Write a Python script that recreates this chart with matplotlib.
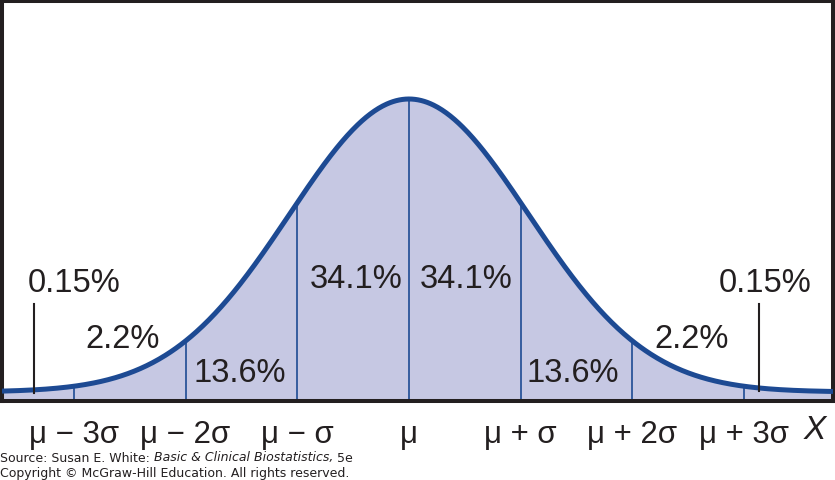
import numpy as np
import matplotlib
matplotlib.use("Agg")
import matplotlib.pyplot as plt

plt.rcParams["font.family"] = ["Liberation Sans", "DejaVu Sans"]

# data
sigma_marks = [-3, -2, -1, 0, 1, 2, 3]
tick_labels = ["μ − 3σ", "μ − 2σ", "μ − σ", "μ", "μ + σ", "μ + 2σ", "μ + 3σ"]
band_labels = ["2.2%", "13.6%", "34.1%", "34.1%", "13.6%", "2.2%"]
tail_label = "0.15%"
curve_width = 1.07  # drawn curve is a little wider than the marked sigma

INK = "#231f20"
BLUE = "#1d4a93"
FILL = "#c6c8e3"

# pixel -> data helpers (axes spans pixels 2..833 across, 2..402 down)
X = lambda px: (px - 409) / 111.7
Y = lambda py: (393 - py) / 293

fig = plt.figure(figsize=(8.35, 4.81), dpi=100)
ax = fig.add_axes([2 / 835, 1 - 402 / 481, 831 / 835, 400 / 481])

xmin, xmax = X(2), X(833)
ybot, ytop = Y(402), Y(2)
x = np.linspace(xmin, xmax, 800)
f = lambda z: np.exp(-z ** 2 / (2 * curve_width ** 2))

ax.fill_between(x, ybot, f(x), color=FILL, lw=0, zorder=1)
for m in sigma_marks:
    ax.plot([m, m], [ybot, f(m)], color=BLUE, lw=1.2, zorder=2)
ax.plot(x, f(x), color=BLUE, lw=3.6, solid_capstyle="butt", zorder=3)

# tail pointers
for xt in [X(34), X(759)]:
    ax.plot([xt, xt], [f(xt) - 0.012, Y(305)], color=INK, lw=1.5, zorder=4)

# band labels (pixel centres from the reference)
band_px = [(123, 340), (240, 373), (356, 280), (466, 280), (573, 373), (692, 340)]
for lab, (px, py) in zip(band_labels, band_px):
    ax.text(X(px), Y(py), lab, ha="center", va="center",
            fontsize=23.5, color=INK, zorder=5)
for px in [74, 765]:
    ax.text(X(px), Y(284), tail_label, ha="center", va="center",
            fontsize=23.5, color=INK, zorder=5)

ax.set_xlim(xmin, xmax)
ax.set_ylim(ybot, ytop)
ax.set_yticks([])
ax.set_xticks(sigma_marks)
ax.set_xticklabels(tick_labels, fontsize=22.5, color=INK)
ax.tick_params(axis="x", length=0, pad=13)
ax.text(X(815), Y(431), "X", ha="center", va="center", fontsize=24,
        style="italic", color=INK)
for s in ax.spines.values():
    s.set_linewidth(2.9)
    s.set_color(INK)

fig.text(0.0, 1 - 458 / 481, "Source: Susan E. White: ", fontsize=9, family="DejaVu Sans",
         color=INK, va="center")
fig.text(0.0, 1 - 474 / 481, "Copyright © McGraw-Hill Education. All rights reserved.",
         fontsize=9, family="DejaVu Sans", color=INK, va="center")
t = fig.text(0.0, 1 - 458 / 481, "Source: Susan E. White: ", fontsize=9,
             family="DejaVu Sans", color="none", va="center")
fig.canvas.draw()
bb = t.get_window_extent()
t2 = fig.text(bb.x1 / fig.bbox.width, 1 - 458 / 481, "Basic & Clinical Biostatistics,",
              fontsize=9, family="DejaVu Sans", style="italic", color=INK, va="center")
bb2 = t2.get_window_extent()
fig.text(bb2.x1 / fig.bbox.width, 1 - 458 / 481, " 5e", fontsize=9, family="DejaVu Sans",
         color=INK, va="center")

fig.savefig("out.png", dpi=100)
